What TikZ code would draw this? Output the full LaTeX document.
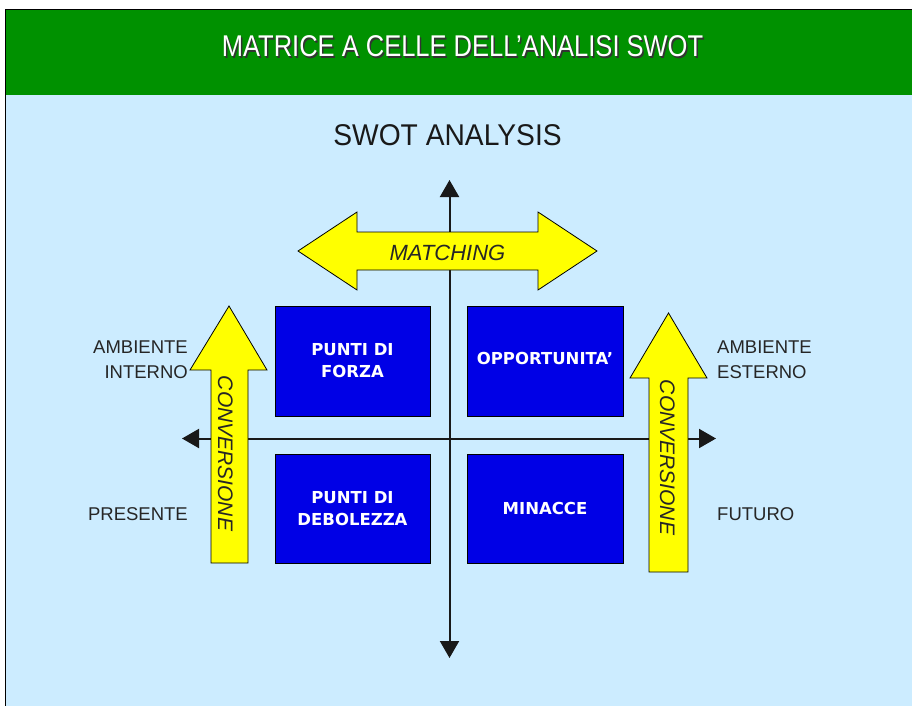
\documentclass[tikz,border=0pt]{standalone}
\usepackage{fontspec}
\setmainfont{Liberation Sans}
\newfontfamily\boxfont{DejaVu Sans}
\usetikzlibrary{arrows.meta}
\definecolor{hdrgreen}{RGB}{0,145,0}
\definecolor{bgblue}{RGB}{204,236,255}
\definecolor{cellblue}{RGB}{0,0,230}
\definecolor{arryellow}{RGB}{255,255,0}
\definecolor{axisgray}{RGB}{25,25,25}
\tikzset{
  cell/.style={draw=black, line width=0.6pt, fill=cellblue, minimum width=#1, minimum height=110pt,
    inner sep=0pt, text=white, align=center, font=\boxfont\bfseries\fontsize{16.5}{22}\selectfont},
  bigarrow/.style={draw=black, line width=0.8pt, fill=arryellow, line join=miter},
  axisline/.style={draw=axisgray, line width=2pt, -{Triangle[width=19pt,length=17pt]}},
  lbl/.style={inner sep=0pt, font=\fontsize{18.5}{24.5}\selectfont, text=black!85},
  arrtext/.style={inner sep=0pt, font=\itshape\fontsize{21}{21}\selectfont, text=black!85, rotate=-90, anchor=base}
}
\begin{document}
\begin{tikzpicture}[x=1pt,y=-1pt]
\useasboundingbox (0,0) rectangle (912,706);
\fill[white] (0,0) rectangle (912,706);
% background panels
\fill[bgblue] (5,95) rectangle (912,706);
\fill[hdrgreen] (5,10) rectangle (912,95);
\draw[black, line width=1pt] (5,706) -- (5,10) -- (912,10);
% title with shadow
\node[anchor=base, inner sep=0pt, text=black!80, font=\fontsize{30}{30}\selectfont] (titleshadow) at (464,58.5) {\scalebox{0.85}[1]{MATRICE A CELLE DELL’ANALISI SWOT}};
\node[anchor=base, inner sep=0pt, text=white, font=\fontsize{30}{30}\selectfont] (title) at (462.5,57) {\scalebox{0.85}[1]{MATRICE A CELLE DELL’ANALISI SWOT}};
% subtitle
\node[anchor=base, inner sep=0pt, text=black!90, font=\fontsize{30}{30}\selectfont] (sub) at (447.5,146) {\scalebox{0.94}[1]{SWOT ANALYSIS}};
% axes
\coordinate (vtop) at (449.5,180);
\coordinate (vbot) at (449.5,658);
\coordinate (hleft) at (182,438.5);
\coordinate (hright) at (716,438.5);
\coordinate (center) at (449.5,438.5);
\draw[axisline] (center) -- (vtop);
\draw[axisline] (center) -- (vbot);
\draw[axisline] (center) -- (hleft);
\draw[axisline] (center) -- (hright);
% cells
\node[cell=155pt] (forza) at (352.5,361) {PUNTI DI\\FORZA};
\node[cell=155pt, minimum height=109pt] (debolezza) at (352.5,508.5) {PUNTI DI\\DEBOLEZZA};
\node[cell=156pt] (opport) at (545,361) {\raisebox{5pt}{OPPORTUNITA’}};
\node[cell=156pt, minimum height=109pt] (minacce) at (545,508.5) {MINACCE};
% matching double arrow
\draw[bigarrow] (298,251) -- (357,212) -- (357,232) -- (538,232) -- (538,212) -- (597,251)
  -- (538,290) -- (538,270) -- (357,270) -- (357,290) -- cycle;
\node[anchor=base, inner sep=0pt, font=\itshape\fontsize{22}{22}\selectfont, text=black!85] (matching) at (447.5,260) {MATCHING};
% conversione arrows
\draw[bigarrow] (229,306) -- (267,370) -- (248,370) -- (248,563) -- (211,563) -- (211,370) -- (190,370) -- cycle;
\node[arrtext] (convL) at (218,453.5) {CONVERSIONE};
\draw[bigarrow] (668.5,313) -- (707,378) -- (688,378) -- (688,572) -- (649,572) -- (649,378) -- (630,378) -- cycle;
\node[arrtext] (convR) at (660,457.5) {CONVERSIONE};
% side labels
\node[lbl, anchor=north east, align=right] (interno) at (188,341) {AMBIENTE\\INTERNO};
\node[lbl, anchor=base east] (presente) at (188,520) {PRESENTE};
\node[lbl, anchor=north west, align=left] (esterno) at (717,341) {AMBIENTE\\ESTERNO};
\node[lbl, anchor=base west] (futuro) at (717,520) {FUTURO};
\end{tikzpicture}
\end{document}
